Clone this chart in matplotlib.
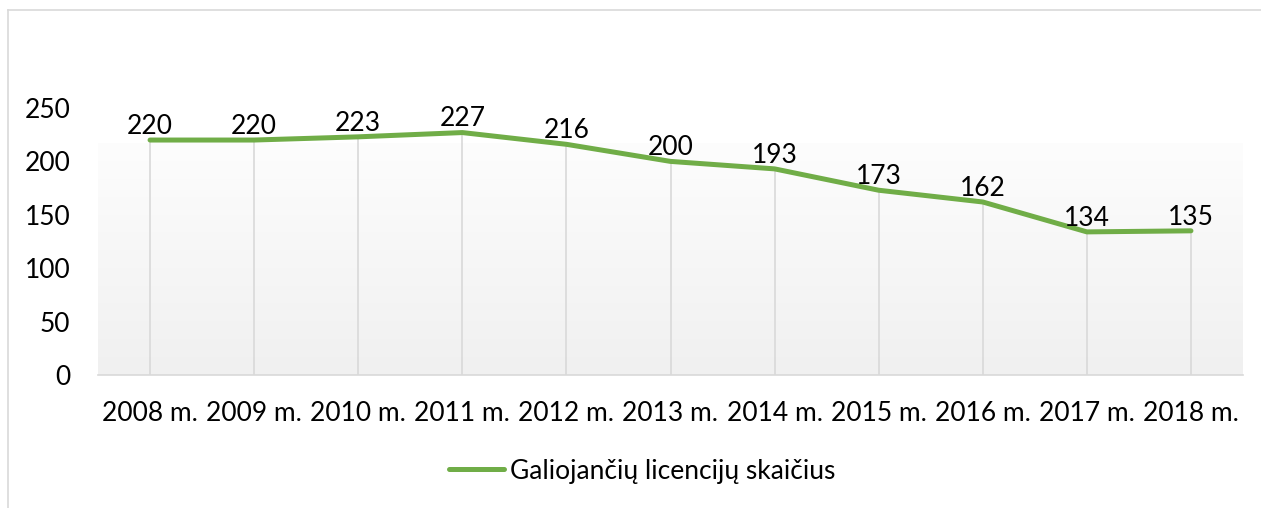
import matplotlib.pyplot as plt
import numpy as np

years = ['2008 m.', '2009 m.', '2010 m.', '2011 m.', '2012 m.', '2013 m.',
         '2014 m.', '2015 m.', '2016 m.', '2017 m.', '2018 m.']
licences = [220, 220, 223, 227, 216, 200, 193, 173, 162, 134, 135]
series_name = 'Galiojančių licencijų skaičius'

plt.rcParams['font.family'] = ['Lato', 'DejaVu Sans']
green = '#70ad47'
fs = 19

fig = plt.figure(figsize=(12.61, 5.08), dpi=100)
ax = fig.add_axes([98 / 1261, 1 - 375 / 508, (1243 - 98) / 1261, (375 - 108) / 508])

x = np.arange(len(years))
ax.set_xlim(-0.5, len(years) - 0.5)
ax.set_ylim(0, 250)

# gradient plot area
grad = np.linspace(0, 1, 256).reshape(-1, 1)
ax.imshow(grad, extent=(-0.5, len(years) - 0.5, 0, 217), aspect='auto',
          cmap=plt.cm.colors.LinearSegmentedColormap.from_list('g', ['#f0f0f0', '#fdfdfd']),
          origin='lower', zorder=0)

# drop lines
ax.vlines(x, 0, licences, color='#d9d9d9', lw=1.2, zorder=1)
ax.plot(x, licences, color=green, lw=3.6, solid_capstyle='round', zorder=3,
        label=series_name)
for xi, v in zip(x, licences):
    ax.annotate(str(v), (xi, v), xytext=(0, 4.5), textcoords='offset points',
                ha='center', va='baseline', fontsize=fs)

for s in ['top', 'right', 'left']:
    ax.spines[s].set_visible(False)
ax.spines['bottom'].set_color('#d9d9d9')
ax.spines['bottom'].set_linewidth(1.2)
ax.set_xticks(x)
ax.set_xticklabels(years)
ax.set_yticks(range(0, 251, 50))
ax.tick_params(length=0, labelsize=fs)
ax.tick_params(axis='y', pad=20)
ax.tick_params(axis='x', pad=19)

leg = fig.legend(loc='center', bbox_to_anchor=(642 / 1261, 1 - 471 / 508), frameon=False,
                 fontsize=fs, handlelength=2.1, handletextpad=0.2)

# chart border (cropped on right and bottom)
fig.add_artist(plt.Line2D([8 / 1261, 8 / 1261], [0, 1 - 10 / 508], color='#d9d9d9', lw=1.2))
fig.add_artist(plt.Line2D([8 / 1261, 1], [1 - 10 / 508, 1 - 10 / 508], color='#d9d9d9', lw=1.2))

fig.savefig('out.png', dpi=100)
